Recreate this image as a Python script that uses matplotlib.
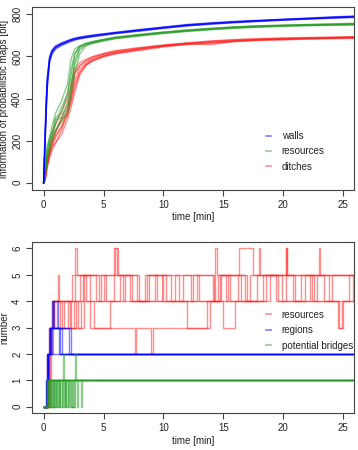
import matplotlib
matplotlib.use('Agg')
import matplotlib.pyplot as plt
import numpy as np

plt.rcParams['font.family'] = ['Liberation Sans', 'DejaVu Sans']

# ---- top panel: information of probabilistic maps, several runs per map type
t_top = [0, 0.1, 0.2, 0.3, 0.5, 0.7, 1.0, 1.5, 2.0, 2.3, 2.6, 3.0, 3.5, 4, 5, 6, 8, 10,
         12, 14, 16, 18, 20, 22, 24, 26]

walls = [
    [0, 180, 350, 480, 590, 625, 645, 660, 672, 678, 683, 688, 693, 697, 705, 712, 725, 738, 750, 758, 765, 770, 775, 780, 785, 790],
    [0, 160, 320, 460, 580, 618, 640, 656, 668, 675, 680, 686, 690, 695, 703, 710, 722, 735, 746, 755, 762, 768, 773, 778, 783, 787],
    [0, 200, 370, 500, 600, 630, 650, 665, 676, 682, 687, 692, 697, 701, 708, 715, 728, 740, 752, 760, 767, 772, 777, 782, 788, 792],
    [0, 150, 300, 440, 570, 610, 635, 652, 664, 671, 677, 683, 688, 692, 700, 708, 720, 733, 745, 753, 760, 766, 772, 777, 781, 785],
    [0, 190, 360, 490, 595, 628, 648, 662, 673, 680, 685, 690, 695, 699, 706, 713, 726, 738, 749, 757, 764, 770, 776, 781, 786, 790],
    [0, 170, 335, 470, 585, 620, 642, 658, 670, 677, 682, 687, 692, 696, 704, 711, 724, 736, 748, 756, 763, 769, 774, 779, 784, 788],
]

resources = [
    [0, 40, 110, 150, 200, 240, 280, 360, 420, 540, 610, 645, 660, 668, 680, 690, 702, 715, 725, 733, 740, 745, 748, 750, 752, 755],
    [0, 30, 70, 120, 190, 210, 300, 310, 380, 470, 560, 630, 652, 662, 675, 686, 700, 712, 722, 730, 737, 742, 746, 748, 750, 752],
    [0, 60, 130, 180, 210, 270, 330, 390, 470, 590, 635, 650, 662, 670, 682, 692, 705, 716, 726, 734, 741, 746, 749, 752, 755, 758],
    [0, 35, 80, 130, 160, 215, 250, 300, 350, 450, 580, 640, 656, 665, 678, 688, 699, 710, 720, 728, 735, 740, 744, 747, 749, 751],
    [0, 45, 95, 150, 220, 240, 310, 330, 430, 510, 615, 648, 660, 667, 679, 689, 703, 714, 724, 731, 739, 744, 747, 751, 753, 756],
    [0, 25, 60, 110, 160, 200, 250, 290, 330, 420, 520, 610, 648, 660, 673, 684, 697, 709, 719, 727, 734, 739, 743, 746, 748, 750],
]

ditches = [
    [0, 20, 60, 100, 150, 190, 240, 300, 330, 420, 520, 555, 575, 590, 610, 622, 638, 650, 660, 670, 676, 680, 683, 686, 688, 690],
    [0, 10, 40, 80, 130, 170, 190, 250, 330, 380, 450, 520, 560, 580, 600, 615, 632, 648, 658, 665, 672, 678, 680, 684, 686, 688],
    [0, 25, 70, 115, 175, 225, 275, 340, 400, 470, 540, 570, 585, 598, 615, 628, 642, 655, 665, 672, 680, 685, 688, 690, 692, 694],
    [0, 15, 50, 90, 140, 180, 225, 270, 320, 400, 490, 540, 565, 585, 605, 618, 635, 652, 662, 655, 675, 680, 684, 687, 689, 692],
    [0, 5, 30, 70, 120, 150, 190, 230, 300, 360, 430, 510, 555, 575, 598, 612, 628, 645, 656, 663, 670, 676, 679, 682, 684, 686],
    [0, 18, 55, 95, 155, 195, 240, 310, 370, 440, 520, 555, 580, 595, 612, 625, 640, 652, 663, 674, 679, 683, 686, 688, 690, 693],
    [0, 12, 45, 85, 135, 175, 215, 265, 350, 400, 470, 525, 558, 578, 603, 617, 634, 650, 660, 666, 673, 679, 682, 685, 687, 689],
]

# ---- bottom panel: counts (step functions), each run has its own change times
res_t = [
    [0, 0.35, 0.5, 0.8, 2.4, 2.6, 2.8, 4.6, 5.9, 6.1, 7.2, 8.5, 9.5, 11.0, 12.3, 14.3, 14.5, 15.6, 17.2, 18.0, 18.1, 19.6, 21.5, 23.0, 23.1, 26],
    [0, 0.4, 0.55, 0.9, 1.5, 2.0, 3.0, 3.9, 7.6, 7.7, 9.0, 9.1, 13.9, 14.6, 15.2, 16.2, 16.3, 17.5, 20.2, 20.3, 22.4, 24.6, 25.0, 26],
    [0, 0.3, 0.45, 0.7, 1.2, 1.3, 2.2, 2.7, 2.9, 3.4, 5.2, 6.4, 7.8, 8.8, 10.2, 11.6, 13.0, 14.8, 16.8, 18.6, 21.0, 22.8, 25.8, 26],
    [0, 0.4, 0.6, 1.0, 1.7, 2.6, 3.5, 4.8, 6.0, 6.2, 7.4, 9.3, 10.6, 12.8, 14.1, 15.0, 16.0, 17.8, 19.4, 20.2, 20.3, 22.6, 24.1, 26],
    [0, 0.45, 0.65, 1.1, 2.3, 3.1, 4.2, 5.5, 6.8, 8.0, 9.9, 11.3, 12.0, 13.6, 15.4, 17.0, 18.3, 19.9, 21.8, 23.4, 24.7, 24.9, 26],
    [0, 0.5, 0.75, 1.4, 2.5, 3.3, 4.4, 5.0, 6.6, 8.6, 10.0, 12.5, 14.2, 14.7, 16.5, 18.9, 20.8, 22.2, 23.8, 25.5, 26],
]
res_v = [
    [0, 2, 3, 4, 5, 6, 5, 4, 6, 5, 4, 5, 4, 5, 4, 6, 5, 4, 5, 6, 5, 4, 5, 6, 5, 5],
    [0, 2, 3, 4, 3, 4, 5, 3, 2, 3, 2, 3, 4, 5, 4, 5, 6, 5, 6, 5, 4, 3, 4, 4],
    [0, 2, 3, 4, 5, 4, 3, 4, 3, 5, 4, 5, 4, 5, 4, 5, 4, 5, 4, 5, 4, 5, 4, 4],
    [0, 2, 3, 3, 4, 5, 4, 5, 6, 5, 4, 5, 4, 5, 4, 3, 4, 5, 4, 6, 5, 4, 5, 5],
    [0, 1, 3, 4, 3, 4, 3, 4, 5, 4, 5, 4, 3, 4, 5, 4, 5, 4, 5, 4, 3, 4, 4],
    [0, 2, 4, 3, 4, 5, 4, 5, 4, 5, 4, 5, 4, 5, 4, 5, 4, 5, 4, 5, 5],
]

reg_t = [
    [0, 0.2, 0.3, 0.5, 1.3, 26],
    [0, 0.25, 0.35, 0.45, 0.7, 0.9, 2.3, 26],
    [0, 0.3, 0.4, 0.6, 1.1, 1.4, 26],
    [0, 0.2, 0.3, 1.0, 26],
    [0, 0.25, 0.4, 0.5, 0.8, 1.2, 1.5, 26],
    [0, 0.3, 0.45, 0.7, 2.1, 26],
]
reg_v = [
    [0, 1, 2, 3, 2, 2],
    [0, 1, 2, 3, 4, 3, 2, 2],
    [0, 1, 2, 3, 3, 2, 2],
    [0, 1, 2, 2, 2],
    [0, 1, 2, 3, 4, 3, 2, 2],
    [0, 1, 2, 3, 2, 2],
]

bri_t = [
    [0, 0.3, 0.5, 0.7, 1.0, 1.2, 1.8, 1.9, 26],
    [0, 0.4, 0.8, 0.9, 1.5, 1.6, 1.7, 2.2, 2.6, 26],
    [0, 0.35, 1.1, 1.3, 2.6, 2.7, 3.1, 3.2, 26],
    [0, 0.3, 0.6, 0.75, 1.4, 1.55, 1.9, 2.0, 2.8, 2.9, 26],
    [0, 0.45, 0.9, 1.05, 2.4, 2.5, 26],
    [0, 0.3, 1.25, 1.35, 2.05, 2.15, 26],
    [0, 0.5, 0.65, 0.95, 1.7, 1.8, 2.3, 2.45, 26],
]
bri_v = [
    [0, 1, 0, 1, 0, 1, 0, 1, 1],
    [0, 1, 0, 1, 0, 2, 1, 0, 1, 1],
    [0, 1, 0, 1, 2, 1, 0, 1, 1],
    [0, 1, 0, 1, 0, 1, 0, 1, 0, 1, 1],
    [0, 1, 0, 1, 0, 1, 1],
    [0, 1, 0, 1, 0, 1, 1],
    [0, 1, 0, 1, 0, 1, 0, 1, 1],
]

blue = '#0000ff'
green = '#1f9a1f'
red = '#ff2020'
alpha = 0.5
grey = '#444444'

fig = plt.figure(figsize=(3.58, 4.5), dpi=100)
ax1 = fig.add_axes([0.0894, 0.578, 0.899, 0.4065])
ax2 = fig.add_axes([0.0894, 0.082, 0.899, 0.380])

for run in ditches:
    ax1.plot(t_top, run, color=red, alpha=alpha, lw=1.0)
for run in resources:
    ax1.plot(t_top, run, color=green, alpha=alpha, lw=1.0)
for run in walls:
    ax1.plot(t_top, run, color=blue, alpha=alpha, lw=1.0)

for t, v in zip(res_t, res_v):
    ax2.plot(t, v, color=red, alpha=alpha, lw=1.0, drawstyle='steps-post')
for t, v in zip(reg_t, reg_v):
    ax2.plot(t, v, color=blue, alpha=alpha, lw=1.0, drawstyle='steps-post')
for t, v in zip(bri_t, bri_v):
    ax2.plot(t, v, color=green, alpha=alpha, lw=1.0, drawstyle='steps-post')

ax1.set_xlim(-0.97, 25.9)
ax1.set_ylim(-34, 835)
ax1.set_yticks([0, 200, 400, 600, 800])
ax2.set_xlim(-0.97, 25.9)
ax2.set_ylim(-0.24, 6.24)
ax2.set_yticks([0, 1, 2, 3, 4, 5, 6])

for ax in (ax1, ax2):
    ax.set_xticks([0, 5, 10, 15, 20, 25])
    ax.tick_params(direction='out', length=4, width=0.8, colors=grey,
                   labelsize=7, labelcolor='#222222', pad=3)
    for lbl in ax.get_yticklabels():
        lbl.set_rotation(90)
        lbl.set_va('center')
    for sp in ax.spines.values():
        sp.set_color(grey)
        sp.set_linewidth(0.8)
    ax.set_xlabel('time [min]', fontsize=7, color='#222222', labelpad=2)

ax1.set_ylabel('information of probabilistic maps [bit]', fontsize=7,
               color='#222222')
ax2.set_ylabel('number', fontsize=7, color='#222222')
ax1.yaxis.set_label_coords(-0.07, 0.5)
ax2.yaxis.set_label_coords(-0.07, 0.5)

h1 = [plt.Line2D([], [], color=c, alpha=alpha, lw=1.2) for c in (blue, green, red)]
ax1.legend(h1, ['walls', 'resources', 'ditches'], loc='upper left',
           bbox_to_anchor=(0.70, 0.37), frameon=False, fontsize=7,
           handlelength=0.5, handletextpad=1.1, labelspacing=0.55,
           labelcolor='#222222')
h2 = [plt.Line2D([], [], color=c, alpha=alpha, lw=1.2) for c in (red, blue, green)]
ax2.legend(h2, ['resources', 'regions', 'potential bridges'], loc='upper left',
           bbox_to_anchor=(0.70, 0.655), frameon=False, fontsize=7,
           handlelength=0.5, handletextpad=1.1, labelspacing=0.55,
           labelcolor='#222222')

plt.savefig('out.png', dpi=100)
